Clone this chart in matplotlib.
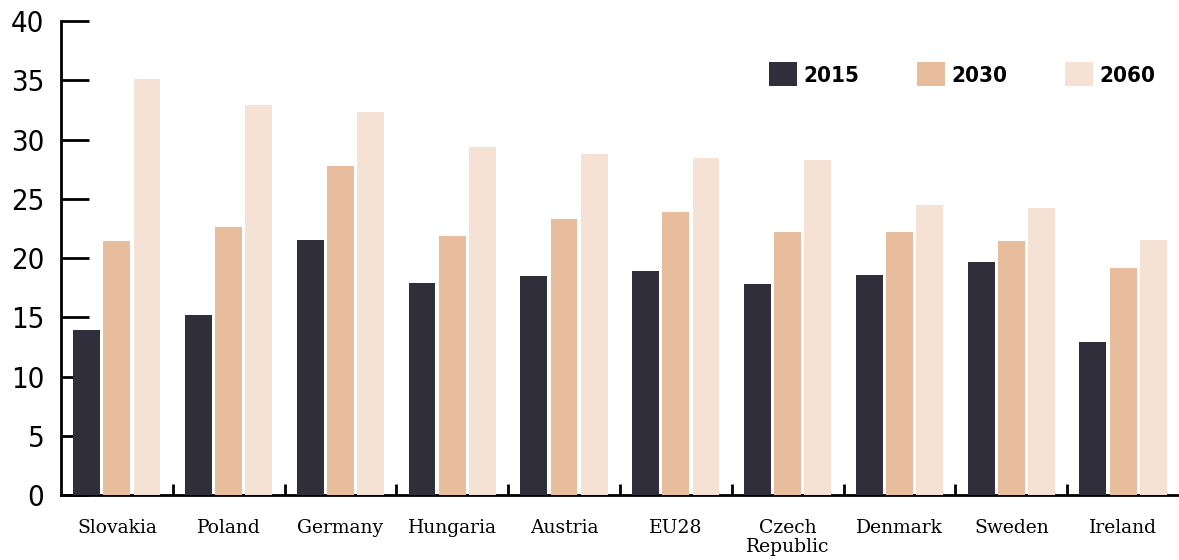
import numpy as np
import matplotlib
matplotlib.use("Agg")
import matplotlib.pyplot as plt
from matplotlib.ticker import FixedLocator

countries = ["Slovakia", "Poland", "Germany", "Hungaria", "Austria",
             "EU28", "Czech\nRepublic", "Denmark", "Sweden", "Ireland"]
years = ["2015", "2030", "2060"]
v2015 = [13.9, 15.2, 21.5, 17.9, 18.5, 18.9, 17.8, 18.6, 19.7, 12.9]
v2030 = [21.4, 22.6, 27.8, 21.9, 23.3, 23.9, 22.2, 22.2, 21.4, 19.2]
v2060 = [35.1, 32.9, 32.3, 29.4, 28.8, 28.4, 28.3, 24.5, 24.2, 21.5]
colors = ["#302e3a", "#e8bd9e", "#f5e2d5"]

fig = plt.figure(figsize=(11.79, 5.6), dpi=100)
ax = fig.add_axes([0.0517, 0.116, 0.9483, 0.8465])

x = np.arange(len(countries))
w = 0.24
for i, (vals, c) in enumerate(zip([v2015, v2030, v2060], colors)):
    ax.bar(x + (i - 1) * 0.27, vals, width=w, color=c, label=years[i], zorder=3)

ax.set_xlim(-0.5, 9.5)
ax.set_ylim(0, 40)
ax.set_yticks(range(0, 41, 5))
for s in ["top", "right"]:
    ax.spines[s].set_visible(False)
ax.spines["left"].set_linewidth(2)
ax.spines["bottom"].set_linewidth(2)
ax.spines["left"].set_zorder(1)
ax.spines["bottom"].set_zorder(1)

ax.tick_params(axis="y", direction="in", length=20, width=2, pad=12,
               labelsize=21)
for t in ax.get_yticklabels():
    t.set_family("DejaVu Sans")
    t.set_fontstretch("condensed")

ax.set_xticks(x)
ax.set_xticklabels(countries, linespacing=1.1)
ax.tick_params(axis="x", which="major", length=0, pad=17, labelsize=13.5)
for t in ax.get_xticklabels():
    t.set_family("DejaVu Serif")
    t.set_verticalalignment("top")
ax.xaxis.set_minor_locator(FixedLocator(np.arange(0.5, 9, 1)))
ax.tick_params(axis="x", which="minor", direction="in", length=8, width=2)

leg = ax.legend(loc="upper right", bbox_to_anchor=(0.997, 0.955), ncol=3,
                frameon=False, handlelength=1.25, handleheight=1.25,
                columnspacing=2.6, handletextpad=0.3,
                prop={"family": "DejaVu Sans", "stretch": "condensed",
                      "weight": "bold", "size": 16})

fig.savefig("out.png", dpi=100)
